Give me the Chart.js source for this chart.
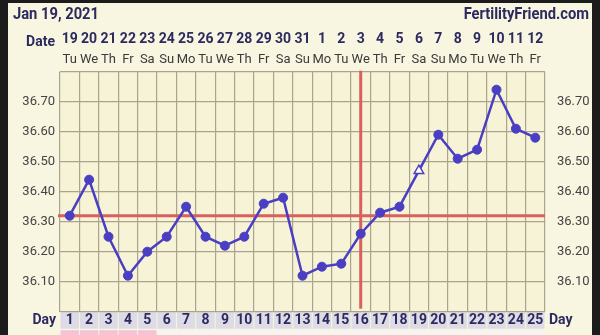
<!DOCTYPE html>
<html><head><meta charset="utf-8">
<script src="https://cdn.jsdelivr.net/npm/chart.js@4.4.0/dist/chart.umd.min.js"></script>
<style>
html,body{margin:0;padding:0;background:#1c1c1c;overflow:hidden}
canvas{display:block}
</style></head><body>
<canvas id="c" width="600" height="335"></canvas>
<script>
const cycleDays = ['1','2','3','4','5','6','7','8','9','10','11','12','13','14','15','16','17','18','19','20','21','22','23','24','25'];
const dates = ['19','20','21','22','23','24','25','26','27','28','29','30','31','1','2','3','4','5','6','7','8','9','10','11','12'];
const weekdays = ['Tu','We','Th','Fr','Sa','Su','Mo','Tu','We','Th','Fr','Sa','Su','Mo','Tu','We','Th','Fr','Sa','Su','Mo','Tu','We','Th','Fr'];
const temps = [36.32,36.44,36.25,36.12,36.20,36.25,36.35,36.25,36.22,36.25,36.36,36.38,36.12,36.15,36.16,36.26,36.33,36.35,36.47,36.59,36.51,36.54,36.74,36.61,36.58];
const openMarkerDays = [19];
const periodDays = [1,2,3,4,5];
const coverline = 36.32;
const ovulationDay = 16;
const yMin = 36.0, yMax = 36.8, yStep = 0.05;
const chartTitle = 'Jan 19, 2021';
const siteName = 'FertilityFriend.com';

const NAVY = '#2c2a5e';
const PURPLE = '#4a3fc2';
const GRID = '#aaa48f';

const chromePlugin = {
  id: 'chrome',
  beforeDraw(chart) {
    const {ctx, chartArea: a, scales} = chart;
    ctx.save();
    ctx.fillStyle = '#1c1c1c'; ctx.fillRect(0, 0, 600, 335);
    ctx.fillStyle = '#f8f5e1'; ctx.fillRect(8, 3, 584, 332);
    ctx.fillStyle = '#f7f3d6'; ctx.fillRect(a.left, a.top, a.right - a.left, a.bottom - a.top);
    const xs = scales.x;
    const w = (a.right - a.left) / cycleDays.length;
    cycleDays.forEach((d, i) => {
      const cx = xs.getPixelForValue(i);
      ctx.fillStyle = '#dddbe6';
      ctx.fillRect(cx - w / 2 + 0.5, a.bottom + 0.5, w - 1, 16.5);
      ctx.fillStyle = periodDays.includes(Number(d)) ? '#f4c3d5' : '#f6f4f0';
      ctx.fillRect(cx - w / 2 + 0.5, a.bottom + 18.5, w - 1, 12);
    });
    ctx.restore();
  },
  beforeDatasetsDraw(chart) {
    const {ctx, chartArea: a, scales} = chart;
    ctx.save();
    ctx.strokeStyle = '#d9605c';
    ctx.lineWidth = 3;
    const y = scales.y.getPixelForValue(coverline);
    ctx.beginPath(); ctx.moveTo(a.left - 2, y); ctx.lineTo(a.right, y); ctx.stroke();
    const x = scales.x.getPixelForValue(ovulationDay - 1);
    ctx.beginPath(); ctx.moveTo(x, a.top - 1); ctx.lineTo(x, a.bottom - 3); ctx.stroke();
    ctx.restore();
  },
  afterDraw(chart) {
    const {ctx} = chart;
    ctx.save();
    ctx.fillStyle = NAVY;
    ctx.textBaseline = 'alphabetic';
    ctx.save();
    ctx.font = 'bold 16px Roboto';
    ctx.scale(0.92, 1);
    ctx.textAlign = 'left';
    ctx.fillText(chartTitle, 13 / 0.92, 19);
    ctx.textAlign = 'right';
    ctx.fillText(siteName, 589 / 0.92, 19);
    ctx.restore();
    ctx.font = 'bold 14px Roboto';
    ctx.textAlign = 'right';
    ctx.fillText('Date', 55, 46);
    ctx.fillText('Day', 56, 324);
    ctx.textAlign = 'left';
    ctx.fillText('Day', 549, 324);
    ctx.restore();
  }
};

new Chart(document.getElementById('c'), {
  type: 'line',
  data: {
    labels: cycleDays,
    datasets: [{
      data: temps,
      borderColor: PURPLE,
      borderWidth: 2.5,
      tension: 0,
      pointRadius: temps.map((t, i) => openMarkerDays.includes(i + 1) ? 5.5 : 4.5),
      pointStyle: temps.map((t, i) => openMarkerDays.includes(i + 1) ? 'triangle' : 'circle'),
      pointBackgroundColor: temps.map((t, i) => openMarkerDays.includes(i + 1) ? '#ffffff' : PURPLE),
      pointBorderColor: PURPLE,
      pointBorderWidth: temps.map((t, i) => openMarkerDays.includes(i + 1) ? 1.5 : 1),
      xAxisID: 'x', yAxisID: 'y'
    }]
  },
  options: {
    responsive: false,
    animation: false,
    layout: { padding: { left: 8, right: 0, top: 27.7, bottom: 0 } },
    plugins: { legend: { display: false }, tooltip: { enabled: false }, title: { display: false } },
    scales: {
      x: {
        type: 'category', position: 'bottom', offset: true,
        grid: { display: true, offset: true, color: GRID, lineWidth: 1.2, drawTicks: false },
        border: { display: false },
        ticks: { color: NAVY, font: { family: 'Roboto', size: 14, weight: 'bold' }, padding: 0, maxRotation: 0, autoSkip: false },
        afterFit(s) { s.height = 23.3; }
      },
      xDate: {
        type: 'category', position: 'top', offset: true, weight: 2,
        labels: dates,
        grid: { display: false, drawTicks: false, tickLength: 0 }, border: { display: false },
        ticks: { color: NAVY, font: { family: 'Roboto', size: 14, weight: 'bold' }, padding: 0, maxRotation: 0, autoSkip: false },
        afterFit(s) { s.height = 20; }
      },
      xWd: {
        type: 'category', position: 'top', offset: true, weight: 1,
        labels: weekdays,
        grid: { display: false, drawTicks: false, tickLength: 0 }, border: { display: false },
        ticks: { color: '#3a3a3a', font: { family: 'Roboto', size: 13 }, padding: 4, maxRotation: 0, autoSkip: false },
        afterFit(s) { s.height = 24; }
      },
      y: {
        type: 'linear', position: 'left', min: yMin, max: yMax,
        grid: { color: GRID, lineWidth: 1.2, drawTicks: false },
        border: { display: false },
        ticks: {
          stepSize: yStep, padding: 5, color: '#444444',
          font: { family: 'Roboto', size: 13 },
          callback(v) { const k = Math.round(v * 100); return (k % 10 === 0 && k > 3600 && k < 3680) ? (k / 100).toFixed(2) : ''; }
        },
        afterFit(s) { s.width = 52; }
      },
      y2: {
        type: 'linear', position: 'right', min: yMin, max: yMax,
        grid: { display: false }, border: { display: false },
        ticks: {
          stepSize: yStep, padding: 4, color: '#444444',
          font: { family: 'Roboto', size: 13 },
          callback(v) { const k = Math.round(v * 100); return (k % 10 === 0 && k > 3600 && k < 3680) ? (k / 100).toFixed(2) : ''; }
        },
        afterFit(s) { s.width = 55; }
      }
    }
  },
  plugins: [chromePlugin]
});
</script>
</body></html>
